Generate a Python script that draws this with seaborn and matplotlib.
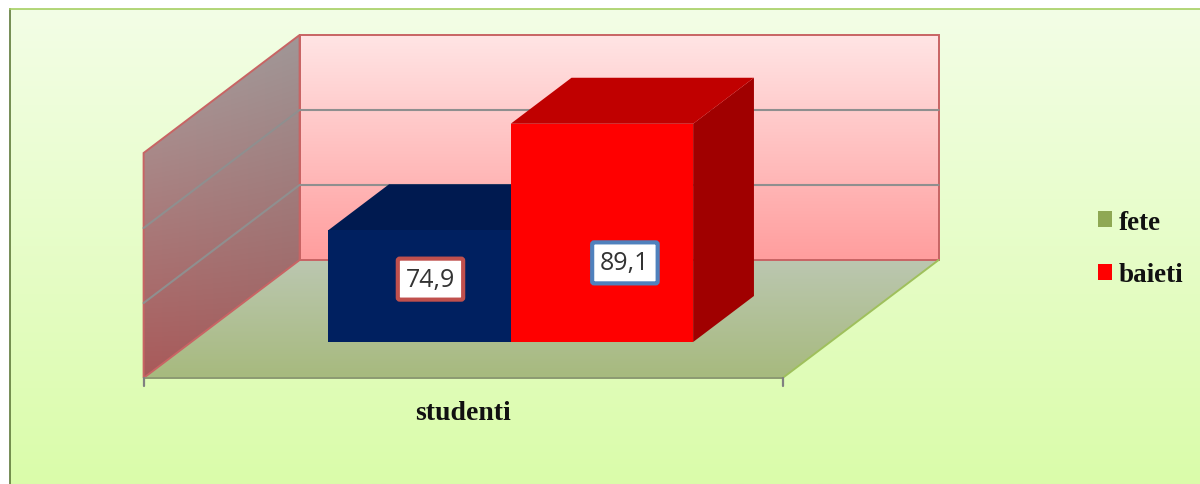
import numpy as np
import pandas as pd
import matplotlib.pyplot as plt
from matplotlib.colors import to_rgb
from matplotlib.patches import Patch, Polygon
import seaborn as sns

# date
grupa = ["studenti", "studenti"]
serie = ["fete", "baieti"]
valori = [74.9, 89.1]
etichete = ["74,9", "89,1"]
y_ticks = [60, 70, 80, 90]
legend_labels = ["fete", "baieti"]

W, H = 1200, 485
PX_X = 639.0    # pixeli pentru o categorie
PX_Y = 7.5      # pixeli pentru o unitate
SLOPE = 156.0 / 118.0
D_FRONT, D_BACK = -36.0, 82.0   # adancime perete/podea fata de planul barelor
D_BAR = 46.0

bar_colors = ["#002060", "#ff0000"]
top_colors = ["#001a50", "#c00000"]
side_colors = ["#001a50", "#a00000"]
legend_colors = ["#8fa854", "#ff0000"]
box_colors = ["#c0504d", "#4f81bd"]
label_shift = [(11, 7), (23, -30)]    # eticheta mutata manual fata de centrul barei


def proj(x, y, d):
    return (x + d * SLOPE / PX_X, y + d / PX_Y)


def gradient_poly(ax, verts, tl, tr, bl, br, zorder=0):
    verts = np.array(verts)
    u = np.linspace(0, 1, 64)[None, :, None]
    v = np.linspace(0, 1, 64)[:, None, None]
    tl, tr, bl, br = (np.array(to_rgb(c))[None, None, :] for c in (tl, tr, bl, br))
    img = (1 - v) * ((1 - u) * tl + u * tr) + v * ((1 - u) * bl + u * br)
    extent = (verts[:, 0].min(), verts[:, 0].max(), verts[:, 1].min(), verts[:, 1].max())
    im = ax.imshow(img, extent=extent, origin="upper", aspect="auto",
                   interpolation="bilinear", zorder=zorder)
    im.set_clip_box(ax.figure.bbox)
    im.set_clip_path(Polygon(verts, transform=ax.transData))


sns.set_theme(style="white")
plt.rcParams["font.family"] = ["Liberation Serif", "DejaVu Serif"]

fig = plt.figure(figsize=(W / 100, H / 100), dpi=100, facecolor="white")

# fundal cu degrade
bg = fig.add_axes([10 / W, 0, (W - 10) / W, (H - 10) / H])
grad = np.linspace(to_rgb("#f3fee6"), to_rgb("#dafcaa"), 256)[:, None, :]
bg.imshow(grad, aspect="auto", interpolation="bilinear")
bg.set_xticks([])
bg.set_yticks([])
for name, sp in bg.spines.items():
    sp.set_visible(name in ("top", "left"))
    sp.set_color("#a6cf62")
    sp.set_linewidth(1.2)
bg.spines["left"].set_color("#5f7a3a")

# axa principala = planul din fata al barelor
ax = fig.add_axes([191.2 / W, (H - 343) / H, PX_X / W, 225 / H])
ax.patch.set_alpha(0)
df = pd.DataFrame({"grupa": grupa, "serie": serie, "valoare": valori})
sns.barplot(data=df, x="grupa", y="valoare", hue="serie", hue_order=serie,
            palette=bar_colors, width=0.571, gap=0, legend=False, ax=ax,
            zorder=5, linewidth=0, saturation=1)
bars = list(ax.patches)
xmin, xmax = -0.5, 0.5
ymin, ymax = y_ticks[0], y_ticks[-1]

# perete spate
back = [proj(xmin, ymax, D_BACK), proj(xmax, ymax, D_BACK),
        proj(xmax, ymin, D_BACK), proj(xmin, ymin, D_BACK)]
gradient_poly(ax, back, "#ffe4e4", "#ffe4e4", "#ff9e9e", "#ff9e9e")
ax.add_patch(Polygon(back, closed=True, fill=False, ec="#c86464", lw=1.4, zorder=1, clip_on=False))

# perete stanga
left = [proj(xmin, ymax, D_FRONT), proj(xmin, ymax, D_BACK),
        proj(xmin, ymin, D_BACK), proj(xmin, ymin, D_FRONT)]
gradient_poly(ax, left, "#a9a1a1", "#a09696", "#a95a5a", "#a05a5a")
ax.add_patch(Polygon(left, closed=True, fill=False, ec="#c86464", lw=1.4, zorder=1, clip_on=False))

# podea
floor = [proj(xmin, ymin, D_BACK), proj(xmax, ymin, D_BACK),
         proj(xmax, ymin, D_FRONT), proj(xmin, ymin, D_FRONT)]
gradient_poly(ax, floor, "#bbc7b0", "#bbc7b0", "#a7ba7e", "#a7ba7e")
ax.plot(*zip(floor[1], floor[2]), color="#9fc05c", lw=1.4, zorder=1, clip_on=False)
ax.plot(*zip(floor[3], floor[2]), color="#8c9a72", lw=1.4, zorder=1, clip_on=False)

# linii de grila
for t in y_ticks[1:-1]:
    a, b, c = proj(xmin, t, D_FRONT), proj(xmin, t, D_BACK), proj(xmax, t, D_BACK)
    ax.plot(*zip(a, b, c), color="#8f8f8f", lw=1.5, zorder=1, clip_on=False)

# gradatii pe axa de jos
for xt in (xmin, xmax):
    a = proj(xt, ymin, D_FRONT)
    ax.plot([a[0], a[0]], [a[1], a[1] - 8 / PX_Y], color="#808080", lw=1.6, zorder=1, clip_on=False)

# fetele 3D ale barelor
for i, p in enumerate(bars):
    x0, x1, val = p.get_x(), p.get_x() + p.get_width(), p.get_height()
    top_face = [proj(x0, val, 0), proj(x1, val, 0), proj(x1, val, D_BAR), proj(x0, val, D_BAR)]
    side_face = [proj(x1, ymin, 0), proj(x1, val, 0), proj(x1, val, D_BAR), proj(x1, ymin, D_BAR)]
    ax.add_patch(Polygon(side_face, closed=True, fc=side_colors[i], ec="none", zorder=3 + i / 10, clip_on=False))
    ax.add_patch(Polygon(top_face, closed=True, fc=top_colors[i], ec="none", zorder=3 + i / 10, clip_on=False))
    cx = (x0 + x1) / 2
    cy = (ymin + val) / 2
    ax.annotate(etichete[i], xy=(cx, cy), xytext=label_shift[i], textcoords="offset pixels",
                ha="center", va="center", fontsize=18, family=["Open Sans", "DejaVu Sans"], color="#333333",
                zorder=7, annotation_clip=False,
                bbox=dict(boxstyle="round,pad=0.32,rounding_size=0.08", fc="white", ec=box_colors[i], lw=3))

ax.set_xlim(xmin, xmax)
ax.set_ylim(ymin, ymax)
ax.axis("off")

# eticheta axei
lx, ly = proj(0, ymin, D_FRONT)
ax.annotate("studenti", xy=(lx, ly), xytext=(0, -35), textcoords="offset pixels",
            ha="center", va="center", fontsize=20, fontweight="bold", color="#111111", annotation_clip=False)

handles = [Patch(fc=c, ec="none") for c in legend_colors]
fig.legend(handles, legend_labels, loc="center left", bbox_to_anchor=(1098 / W, 1 - 249.5 / H),
           frameon=False, prop={"family": "Liberation Serif", "weight": "bold", "size": 19.5},
           handlelength=0.52, handleheight=0.52, handletextpad=0.26, labelspacing=1.02,
           labelcolor="#111111", borderpad=0, borderaxespad=0)

fig.savefig("out.png", dpi=100)
